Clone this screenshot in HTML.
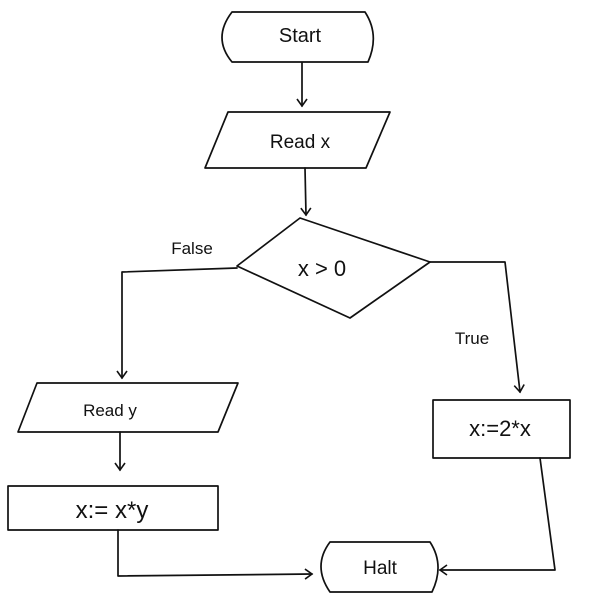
<!DOCTYPE html>
<html><head><meta charset="utf-8"><style>
html,body{margin:0;padding:0;background:#fff;}
svg{display:block;}
text{font-family:"Comic Sans MS","Liberation Sans",cursive,sans-serif;fill:#111;}
</style></head><body>
<svg width="600" height="600" viewBox="0 0 600 600" xmlns="http://www.w3.org/2000/svg">
<defs>
<marker id="r" markerWidth="12" markerHeight="12" refX="10" refY="6" orient="auto" markerUnits="userSpaceOnUse">
<path d="M3,1 L10,6 L3,11" fill="none" stroke="#111" stroke-width="1.6"/></marker></defs>
<g fill="none" stroke="#111" stroke-width="1.7" stroke-linecap="round" stroke-linejoin="round">
<path d="M232,12 L365,12 Q380,35 368,62 L232,62 Q212,38 232,12 Z"/>
<line x1="302" y1="63" x2="302" y2="106" marker-end="url(#r)"/>
<path d="M228,112 L390,112 L366,168 L205,168 Z"/>
<line x1="305" y1="168" x2="306" y2="215" marker-end="url(#r)"/>
<path d="M237,266 L300,218 L430,262 L350,318 Z"/>
<path d="M237,268 L122,272 L122,378" marker-end="url(#r)"/>
<path d="M430,262 L505,262 L520,392" marker-end="url(#r)"/>
<path d="M37,383 L238,383 L218,432 L18,432 Z"/>
<line x1="120" y1="432" x2="120" y2="470" marker-end="url(#r)"/>
<rect x="8" y="486" width="210" height="44"/>
<rect x="433" y="400" width="137" height="58"/>
<path d="M330,542 L430,542 Q445,565 432,592 L330,592 Q312,566 330,542 Z"/>
<path d="M118,530 L118,576 L312,574" marker-end="url(#r)"/>
<path d="M540,458 L555,570 L440,570" marker-end="url(#r)"/>
</g>
<text x="300" y="42" font-size="20" text-anchor="middle">Start</text>
<text x="300" y="148" font-size="19" text-anchor="middle">Read x</text>
<text x="322" y="276" font-size="22" text-anchor="middle">x &gt; 0</text>
<text x="192" y="254" font-size="17" text-anchor="middle">False</text>
<text x="472" y="344" font-size="17" text-anchor="middle">True</text>
<text x="110" y="416" font-size="17" text-anchor="middle">Read y</text>
<text x="112" y="518" font-size="24" text-anchor="middle">x:=  x*y</text>
<text x="500" y="436" font-size="22" text-anchor="middle">x:=2*x</text>
<text x="380" y="574" font-size="19" text-anchor="middle">Halt</text>
</svg>
</body></html>
